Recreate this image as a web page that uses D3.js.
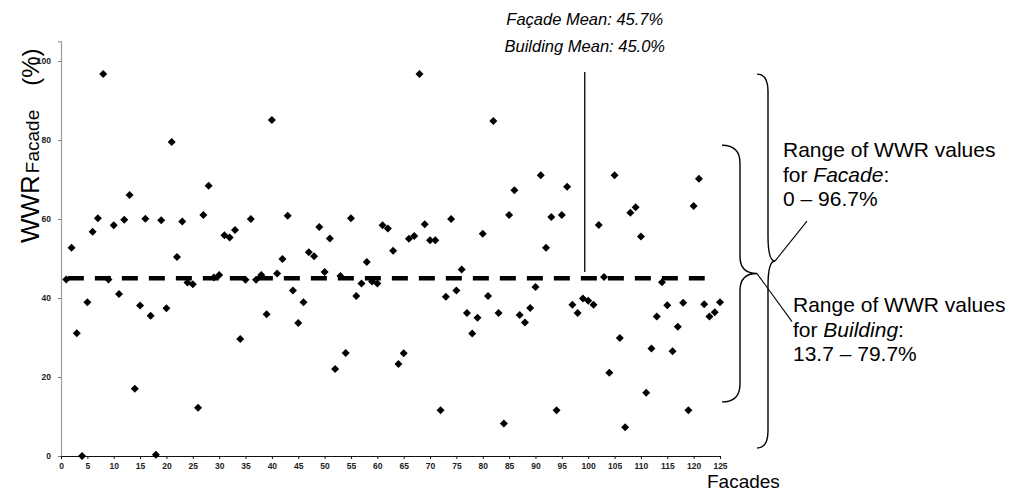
<!DOCTYPE html>
<html>
<head>
<meta charset="utf-8">
<script src="https://cdn.jsdelivr.net/npm/d3@7"></script>
<style>
  body { margin: 0; background: #fff; }
  svg { display: block; font-family: "Liberation Sans", Arial, sans-serif; }
</style>
</head>
<body>
<div id="chart"></div>
<script>
// WWR of each facade (facade number = position + 1)
const wwr = [
  44.7, 52.7, 31.1, 0, 38.9, 56.8, 60.2, 96.7, 44.7, 58.4,
  41.0, 59.8, 66.1, 17.0, 38.1, 60.1, 35.5, 0.3, 59.7, 37.4,
  79.5, 50.4, 59.4, 43.9, 43.5, 12.2, 61.0, 68.4, 45.2, 45.8,
  55.9, 55.3, 57.2, 29.6, 44.6, 60.0, 44.6, 45.8, 35.9, 85.1,
  46.2, 49.9, 60.8, 41.9, 33.7, 38.9, 51.6, 50.6, 58.0, 46.6,
  55.1, 22.0, 45.6, 26.1, 60.2, 40.5, 43.7, 49.1, 44.2, 43.7,
  58.4, 57.6, 52.0, 23.3, 26.0, 55.0, 55.7, 96.7, 58.7, 54.6,
  54.6, 11.6, 40.3, 60.0, 41.9, 47.2, 36.2, 31.0, 35.0, 56.3,
  40.5, 84.8, 36.2, 8.2, 61.0, 67.3, 35.7, 33.8, 37.5, 42.8,
  71.1, 52.7, 60.5, 11.6, 61.0, 68.2, 38.3, 36.2, 39.9, 39.3,
  38.3, 58.5, 45.3, 21.1, 71.1, 29.9, 7.3, 61.6, 63.0, 55.6,
  16.0, 27.2, 35.3, 44.0, 38.2, 26.5, 32.7, 38.8, 11.6, 63.3,
  70.2, 38.4, 35.3, 36.4, 38.9
];
const xTicks = d3.range(0, 126, 5);
const yTicks = [0, 20, 40, 60, 80, 100];
const buildingMean = 45.0;
const facadeMean = 45.7;
const meanSpan = [1.3, 122.1];      // extent of the dashed mean line (facade no.)
const pointerX = 99.35;             // vertical pointer to the mean line
const pointerSpan = [46.6, 97.2];
const facadeRange = [0, 96.7];
const buildingRange = [13.7, 79.7];

const width = 1020, height = 491;

const svg = d3.select("#chart").append("svg")
  .attr("width", width)
  .attr("height", height);

const x = d3.scaleLinear().domain([0, 125]).range([61, 720]);
const y = d3.scaleLinear().domain([0, 105]).range([456, 41.3]);

// y axis
const yAxis = svg.append("g")
  .attr("transform", `translate(${x(0)},0)`)
  .call(d3.axisLeft(y).tickValues(yTicks).tickSize(3).tickPadding(7));
yAxis.select(".domain").attr("stroke", "#999").attr("stroke-width", 1.2);
yAxis.selectAll(".tick line").attr("stroke", "#777");
yAxis.selectAll(".tick text")
  .attr("font-size", 8.5).attr("font-weight", "bold").attr("fill", "#222");

// x axis
const xAxis = svg.append("g")
  .attr("transform", `translate(0,${y(0)})`)
  .call(d3.axisBottom(x).tickValues(xTicks).tickSize(3).tickPadding(4).tickSizeOuter(0));
xAxis.select(".domain").attr("stroke", "#111");
xAxis.selectAll(".tick line").attr("stroke", "#111");
xAxis.selectAll(".tick text")
  .attr("font-size", 8.5).attr("font-weight", "bold").attr("fill", "#222");

// y axis title
const yTitle = svg.append("text")
  .attr("transform", "translate(39,243) rotate(-90)")
  .attr("fill", "#000");
yTitle.append("tspan").attr("font-size", 26).text("WWR");
yTitle.append("tspan").attr("font-size", 19).attr("dx", 2).text("Facade");
yTitle.append("tspan").attr("font-size", 24).attr("dx", 24).text("(%)");

// x axis title
svg.append("text")
  .attr("x", 707).attr("y", 488)
  .attr("font-size", 19)
  .text("Facades");

// dashed mean line
svg.append("line")
  .attr("x1", x(meanSpan[0])).attr("x2", x(meanSpan[1]))
  .attr("y1", y(buildingMean)).attr("y2", y(buildingMean))
  .attr("stroke", "#000")
  .attr("stroke-width", 4.5)
  .attr("stroke-dasharray", "16,11");

// points
svg.append("g").selectAll("path")
  .data(wwr)
  .join("path")
  .attr("d", d3.symbol(d3.symbolSquare, 32))
  .attr("transform", (d, i) => `translate(${x(i + 1)},${y(d)}) rotate(45)`)
  .attr("fill", "#000");

// vertical pointer and mean labels
svg.append("line")
  .attr("x1", x(pointerX)).attr("x2", x(pointerX))
  .attr("y1", y(pointerSpan[1])).attr("y2", y(pointerSpan[0]))
  .attr("stroke", "#000").attr("stroke-width", 1.3);

svg.append("text")
  .attr("x", x(pointerX)).attr("y", 25)
  .attr("text-anchor", "middle")
  .attr("font-size", 16.5).attr("font-style", "italic")
  .text(`Façade Mean: ${facadeMean.toFixed(1)}%`);
svg.append("text")
  .attr("x", x(pointerX)).attr("y", 52)
  .attr("text-anchor", "middle")
  .attr("font-size", 16.5).attr("font-style", "italic")
  .text(`Building Mean: ${buildingMean.toFixed(1)}%`);

// curly braces
function brace(x0, xs, xt, yTop, yBot, rEnd, rMid) {
  const ym = (yTop + yBot) / 2;
  return `M${x0},${yTop} Q${xs},${yTop} ${xs},${yTop + rEnd} L${xs},${ym - rMid} ` +
    `Q${xs},${ym} ${xt},${ym} Q${xs},${ym} ${xs},${ym + rMid} ` +
    `L${xs},${yBot - rEnd} Q${xs},${yBot} ${x0},${yBot}`;
}

const bigTop = y(facadeRange[1]), bigBot = y(facadeRange[0]) - 8;
const smallTop = y(buildingRange[1]) + 4, smallBot = y(buildingRange[0]);
const bigMid = (bigTop + bigBot) / 2, smallMid = (smallTop + smallBot) / 2;

svg.append("path")
  .attr("d", brace(757, 768, 775, bigTop, bigBot, 17, 25))
  .attr("fill", "none").attr("stroke", "#000").attr("stroke-width", 1.4);
svg.append("path")
  .attr("d", brace(722, 740, 757, smallTop, smallBot, 18, 17))
  .attr("fill", "none").attr("stroke", "#000").attr("stroke-width", 1.4);

svg.append("line")
  .attr("x1", 775).attr("y1", bigMid).attr("x2", 807).attr("y2", bigMid - 40)
  .attr("stroke", "#000").attr("stroke-width", 1.1);
svg.append("line")
  .attr("x1", 757).attr("y1", smallMid).attr("x2", 792).attr("y2", smallMid + 48)
  .attr("stroke", "#000").attr("stroke-width", 1.1);

// range annotations
function rangeLabel(x0, y0, who, range) {
  const t = svg.append("text").attr("font-size", 21);
  t.append("tspan").attr("x", x0).attr("y", y0).text("Range of WWR values");
  const l2 = t.append("tspan").attr("x", x0).attr("y", y0 + 24.5);
  l2.append("tspan").text("for ");
  l2.append("tspan").attr("font-style", "italic").text(who);
  l2.append("tspan").text(":");
  t.append("tspan").attr("x", x0).attr("y", y0 + 49)
    .text(`${range[0] === 0 ? "0" : range[0].toFixed(1)} \u2013 ${range[1].toFixed(1)}%`);
}
rangeLabel(783, 157, "Facade", facadeRange);
rangeLabel(793, 312, "Building", buildingRange);
</script>
</body>
</html>
